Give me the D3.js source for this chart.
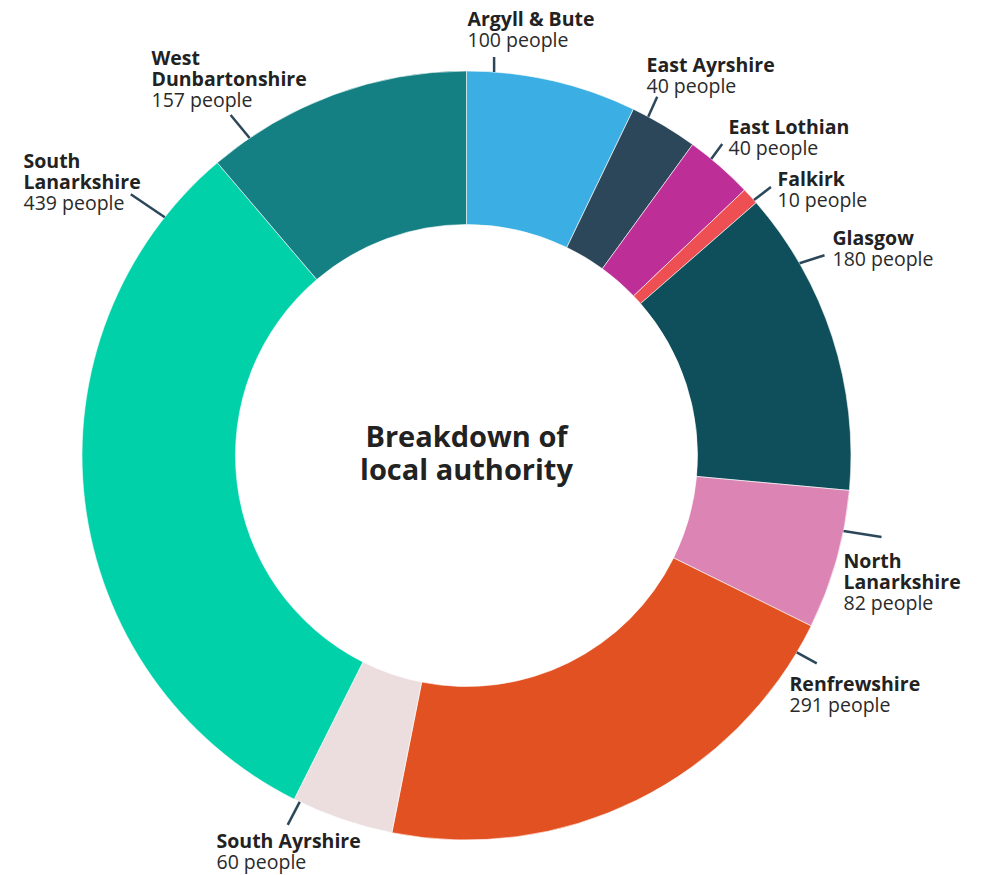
<!DOCTYPE html>
<html><head><meta charset="utf-8">
<script src="https://cdn.jsdelivr.net/npm/d3@7"></script>
<style>body{margin:0;background:#fff}svg{display:block}</style>
</head><body>
<svg id="chart" width="982" height="875"></svg>
<script>
const categories = ["Argyll & Bute","East Ayrshire","East Lothian","Falkirk","Glasgow","North Lanarkshire","Renfrewshire","South Ayrshire","South Lanarkshire","West Dunbartonshire"];
const values = [100,40,40,10,180,82,291,60,439,157];
const colors = ["#3BAFE3","#2C475A","#BD2F96","#EE4F53","#0E4F5B","#DC85B5","#E25122","#ECDEDF","#00D1A9","#148083"];
const labelLines = [["Argyll & Bute"],["East Ayrshire"],["East Lothian"],["Falkirk"],["Glasgow"],["North","Lanarkshire"],["Renfrewshire"],["South Ayrshire"],["South","Lanarkshire"],["West","Dunbartonshire"]];
const title = ["Breakdown of","local authority"];

// layout: tick position fraction along slice, tick end offset, label anchor (relative to centre)
const layout = [
  {f:0.16, dx:0,  dy:-15, lx:1,   ly:-430},
  {f:0.24, dx:9,  dy:-20, lx:180, ly:-384},
  {f:0.34, dx:11, dy:-15, lx:262, ly:-322},
  {f:0.80, dx:17, dy:-13, lx:311, ly:-270},
  {f:0.24, dx:25, dy:-8,  lx:366, ly:-211},
  {f:0.29, dx:38, dy:6,   lx:377, ly:112},
  {f:0.06, dx:20, dy:11,  lx:323, ly:235},
  {f:0.94, dx:-12,dy:23,  lx:-250,ly:392},
  {f:0.90, dx:-34,dy:-23, lx:-443,ly:-288},
  {f:0.15, dx:-19,dy:-23, lx:-315,ly:-391}
];

const cx = 466.5, cy = 455.5, rOuter = 384.5, rInner = 231;
const svg = d3.select("#chart");
const g = svg.append("g").attr("transform",`translate(${cx},${cy})`);

const data = categories.map((c,i)=>({name:c, value:values[i], color:colors[i], lines:labelLines[i], lay:layout[i]}));
const pie = d3.pie().value(d=>d.value).sort(null);
const arc = d3.arc().innerRadius(rInner).outerRadius(rOuter);
const arcs = pie(data);

g.selectAll("path.slice").data(arcs).join("path")
  .attr("class","slice")
  .attr("d",arc)
  .attr("fill",d=>d.data.color)
  .attr("stroke","#fff").attr("stroke-width",0.6);

const font = "'Open Sans', sans-serif";
arcs.forEach(a=>{
  const L = a.data.lay;
  const ang = a.startAngle + L.f*(a.endAngle-a.startAngle);
  const x0 = rOuter*Math.sin(ang), y0 = -rOuter*Math.cos(ang);
  g.append("line").attr("x1",x0).attr("y1",y0).attr("x2",x0+L.dx).attr("y2",y0+L.dy)
    .attr("stroke","#2C475A").attr("stroke-width",2.5);
  const rows = a.data.lines.map(t=>({t, w:700})).concat([{t:`${a.data.value} people`, w:400}]);
  rows.forEach((r,k)=>{
    g.append("text").attr("x",L.lx).attr("y",L.ly+k*21.2)
      .attr("font-family",font).attr("font-size",19.5).attr("font-weight",r.w)
      .attr("fill",r.w===700?"#222":"#2a2a2a").text(r.t);
  });
});

title.forEach((t,i)=>{
  g.append("text").attr("text-anchor","middle").attr("font-family",font)
    .attr("font-size",29).attr("font-weight",700).attr("fill","#222")
    .attr("x",0).attr("y",-8.5+i*33).text(t);
});
</script>
</body></html>
